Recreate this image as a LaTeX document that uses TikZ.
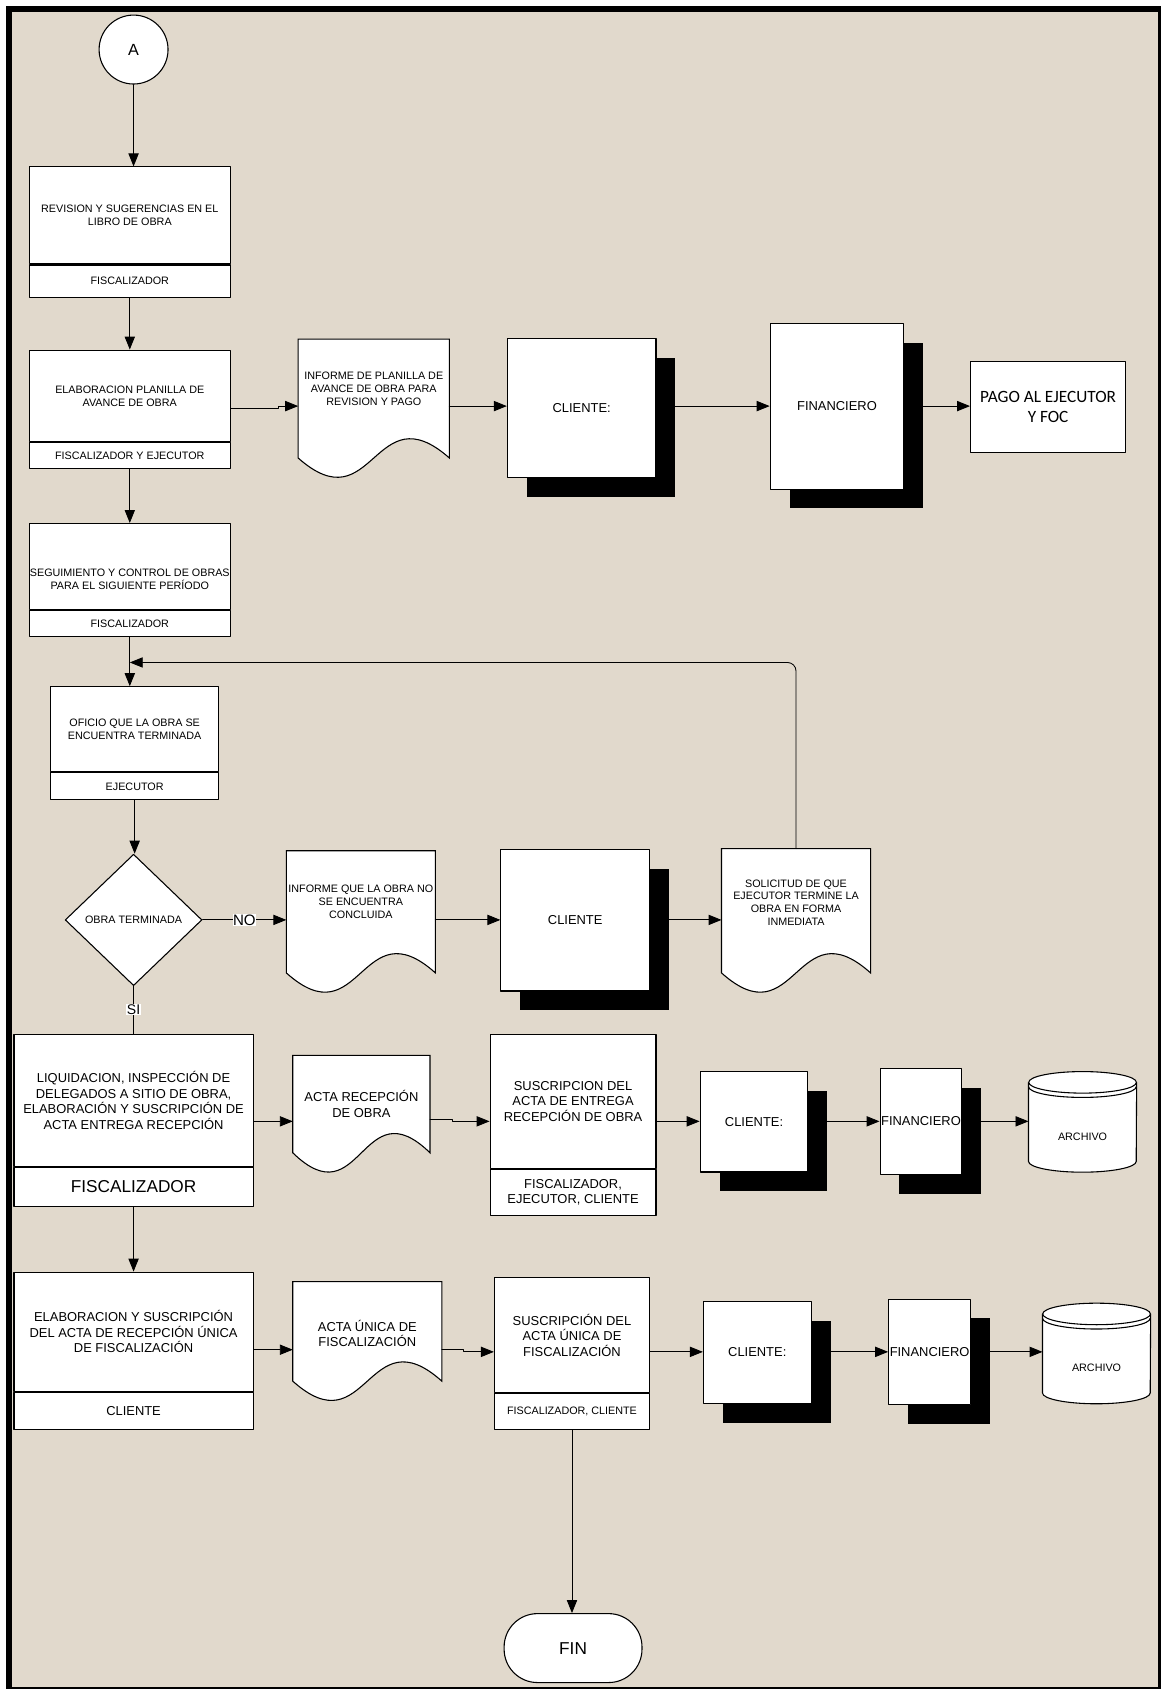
\documentclass[tikz,border=0pt]{standalone}
\usepackage{fontspec}
\setmainfont{Liberation Sans}
\newfontfamily\calibri{Carlito}
\usetikzlibrary{shapes.geometric,shadows,calc,arrows.meta,backgrounds}
\definecolor{fondo}{RGB}{225,217,204}

\newcommand{\fdiez}{\fontsize{10}{12}\selectfont}
\newcommand{\fdoce}{\fontsize{12}{14.4}\selectfont}
\newcommand{\fgrande}{\fontsize{16}{19}\selectfont}

% documento con borde inferior ondulado: #1 nodo, #2 largo extra de los lados
\newcommand{\documento}[2]{%
  \draw[fill=white,line width=1pt] (#1.north west) -- (#1.north east)
    -- ($(#1.south east)+(0,#2)$)
    .. controls ($(#1.south)+(0,{#2-62})$) and ($(#1.south)+(0,{#2+62})$) ..
    ($(#1.south west)+(0,#2)$) -- cycle;}
% archivo (cilindro con doble tapa)
\newcommand{\cilindro}[1]{%
  \draw[fill=white,line width=1pt] ($(#1.north west)+(0,10)$) -- ($(#1.south west)+(0,-10)$)
    arc[start angle=180,end angle=0,x radius=50,y radius=10] -- ($(#1.north east)+(0,10)$);
  \draw[fill=white,line width=1pt] ($(#1.north)+(0,10)$) ellipse[x radius=50,y radius=10];
  \draw[line width=1pt] ($(#1.north west)+(0,14)$) arc[start angle=180,end angle=0,x radius=50,y radius=10];}

\begin{document}
\begin{tikzpicture}[x=1pt,y=-1pt,line cap=round,line join=round,>={Triangle[length=12pt,width=9.5pt]},
  caja/.style={draw,fill=white,line width=1pt,inner sep=1pt,align=center,font=\fdiez},
  rol/.style={caja,anchor=north},
  doc/.style={inner sep=1pt,align=center,font=\fdiez},
  sombra/.style={caja,font=\fdoce,drop shadow={shadow xshift=18pt,shadow yshift=-18pt,fill=black,opacity=1}},
  archivo/.style={minimum width=100pt,minimum height=93pt,inner sep=0pt},
  etiq/.style={fill=white,inner sep=.5pt,font=\fontsize{14}{14}\selectfont},
  flecha/.style={->,line width=.8pt}]
\useasboundingbox (0,0) rectangle (1078,1568);
% marco y fondo
\begin{scope}[on background layer]
  \fill[white] (0,0) rectangle (1078,1568);
  \fill[black] (5.5,5.5) rectangle (1078,1568);
  \fill[fondo] (11.5,11.5) rectangle (1075,1566);
\end{scope}
\coordinate (f1) at (0,377);
\coordinate (f2) at (0,854);
\coordinate (f3) at (0,1041);
\coordinate (f4) at (0,1255);
\coordinate (m1) at (120.5,615);

% columna principal
\node[circle,draw,fill=white,line width=1pt,minimum size=64pt,inner sep=0pt,font=\fontsize{15}{18}\selectfont] (A) at (124,46) {A};
\node[caja,minimum width=187pt,minimum height=90pt] (rev) at (120.5,200) {REVISION Y SUGERENCIAS EN EL\\LIBRO DE OBRA};
\node[rol,minimum width=187pt,minimum height=30pt] (revr) at (rev.south) {FISCALIZADOR};
\node[caja,minimum width=187pt,minimum height=85pt] (plan) at (120.5,367.5) {ELABORACION PLANILLA DE\\AVANCE DE OBRA};
\node[rol,minimum width=187pt,minimum height=24pt] (planr) at (plan.south) {FISCALIZADOR Y EJECUTOR};
\node[caja,minimum width=187pt,minimum height=80pt,label={[font=\fdiez,align=center,yshift=-12pt,inner sep=0pt]center:SEGUIMIENTO Y CONTROL DE OBRAS\\PARA EL SIGUIENTE PERÍODO}] (seg) at (120.5,526) {};
\node[rol,minimum width=187pt,minimum height=24pt] (segr) at (seg.south) {FISCALIZADOR};
\node[caja,minimum width=156pt,minimum height=79pt] (ofi) at (125,677) {OFICIO QUE LA OBRA SE\\ENCUENTRA TERMINADA};
\node[rol,minimum width=156pt,minimum height=25pt] (ofir) at (ofi.south) {EJECUTOR};
\node[diamond,draw,fill=white,line width=1pt,minimum width=127pt,minimum height=122pt,inner sep=0pt,font=\fdiez] (dec) at (124,854) {OBRA TERMINADA};
\node[caja,font=\fdoce,minimum width=222pt,minimum height=123pt] (liq) at (124,1021.5) {LIQUIDACION, INSPECCIÓN DE\\DELEGADOS A SITIO DE OBRA,\\ELABORACIÓN Y SUSCRIPCIÓN DE\\ACTA ENTREGA RECEPCIÓN};
\node[rol,font=\fgrande,minimum width=222pt,minimum height=36pt] (liqr) at (liq.south) {FISCALIZADOR};
\node[caja,font=\fdoce,minimum width=222pt,minimum height=111pt] (elab) at (124,1236.5) {ELABORACION Y SUSCRIPCIÓN\\DEL ACTA DE RECEPCIÓN ÚNICA\\DE FISCALIZACIÓN};
\node[rol,font=\fdoce,minimum width=222pt,minimum height=34pt] (elabr) at (elab.south) {CLIENTE};

% fila 1
\node[doc,minimum width=140pt,minimum height=92pt] (inf1) at (347,361) {INFORME DE PLANILLA DE\\AVANCE DE OBRA PARA\\REVISION Y PAGO};
\node[sombra,minimum width=138pt,minimum height=129pt] (cli1) at (540,378.5) {CLIENTE:};
\node[sombra,minimum width=124pt,minimum height=154pt] (fin1) at (777,377) {FINANCIERO};
\node[caja,font=\fontsize{16}{19}\calibri,minimum width=144pt,minimum height=84pt] (pago) at (973,378) {PAGO AL EJECUTOR\\Y FOC};

% fila 2
\node[doc,minimum width=138pt,minimum height=94pt] (inf2) at (335,837) {INFORME QUE LA OBRA NO\\SE ENCUENTRA\\CONCLUIDA};
\node[sombra,minimum width=138pt,minimum height=131pt] (cli2) at (534,854.5) {CLIENTE};
\node[doc,minimum width=138pt,minimum height=100pt] (sol) at (739,838) {SOLICITUD DE QUE\\EJECUTOR TERMINE LA\\OBRA EN FORMA\\INMEDIATA};

% fila 3
\node[doc,font=\fdoce,minimum width=127pt,minimum height=90pt] (acta1) at (335.5,1025) {ACTA RECEPCIÓN\\DE OBRA};
\node[caja,font=\fdoce,minimum width=154pt,minimum height=125pt] (sus1) at (532,1022.5) {SUSCRIPCION DEL\\ACTA DE ENTREGA\\RECEPCIÓN DE OBRA};
\node[rol,font=\fdoce,minimum width=154pt,minimum height=42pt] (sus1r) at (sus1.south) {FISCALIZADOR,\\EJECUTOR, CLIENTE};
\node[sombra,minimum width=100pt,minimum height=93pt] (cli3) at (700,1041.5) {CLIENTE:};
\node[sombra,minimum width=76pt,minimum height=98pt] (fin3) at (855,1041) {FINANCIERO};
\node[archivo,label={[font=\fdiez,yshift=-13.5pt]center:ARCHIVO}] (arch1) at (1005,1041.5) {};

% fila 4
\node[doc,font=\fdoce,minimum width=138pt,minimum height=96pt] (acta2) at (341,1238) {ACTA ÚNICA DE\\FISCALIZACIÓN};
\node[caja,font=\fdoce,minimum width=144pt,minimum height=107pt] (sus2) at (531,1239.5) {SUSCRIPCIÓN DEL\\ACTA ÚNICA DE\\FISCALIZACIÓN};
\node[rol,minimum width=144pt,minimum height=33pt] (sus2r) at (sus2.south) {FISCALIZADOR, CLIENTE};
\node[sombra,minimum width=100pt,minimum height=95pt] (cli4) at (703,1255.5) {CLIENTE:};
\node[sombra,minimum width=76pt,minimum height=98pt] (fin4) at (863,1255) {FINANCIERO};
\node[archivo,label={[font=\fdiez,yshift=-13.5pt]center:ARCHIVO}] (arch2) at (1018,1256.5) {};

\node[draw,fill=white,line width=1pt,rounded corners=31pt,minimum width=128pt,minimum height=64pt,font=\fgrande] (fin) at (532,1530) {FIN};

% contornos de documentos y archivos
\begin{scope}[on background layer]
  \documento{inf1}{18}
  \documento{inf2}{19}
  \documento{sol}{15}
  \documento{acta1}{0}
  \documento{acta2}{-4}
  \cilindro{arch1}
  \cilindro{arch2}
\end{scope}

% conectores
\draw[flecha] (A.south) -- (A.south |- rev.north);
\draw[flecha] (revr.south) -- (plan.north);
\draw[flecha] (planr.south) -- (seg.north);
\draw[flecha] (segr.south) -- (segr.south |- ofi.north);
\draw[flecha] (ofir.south) -- (ofir.south |- dec.north);
\draw[line width=.8pt] (dec.south) -- node[etiq,font=\fontsize{13}{13}\selectfont]{SI} (liq.north);
\draw[flecha] (liqr.south) -- (elab.north);
\draw[flecha] (sus2r.south) -- (sus2r.south |- fin.north);

\draw[flecha] ($(plan.east |- f1)+(0,2)$) -- ++(44,0) |- (inf1.west |- f1);
\draw[flecha] (inf1.east |- f1) -- (cli1.west |- f1);
\draw[flecha] (cli1.east |- f1) -- (fin1.west |- f1);
\draw[flecha] (fin1.east |- f1) -- (pago.west |- f1);

\draw[flecha] (dec.east) -- node[etiq]{NO} (inf2.west |- f2);
\draw[flecha] (inf2.east |- f2) -- (cli2.west |- f2);
\draw[flecha] (cli2.east |- f2) -- (sol.west |- f2);
\draw[flecha,rounded corners=8pt] (sol.north) |- (m1);

\draw[flecha] (liq.east |- f3) -- (acta1.west |- f3);
\draw[flecha] ($(acta1.east |- f3)+(0,-1.5)$) -- ++(21,0) |- (sus1.west |- f3);
\draw[flecha] (sus1.east |- f3) -- (cli3.west |- f3);
\draw[flecha] (cli3.east |- f3) -- (fin3.west |- f3);
\draw[flecha] (fin3.east |- f3) -- (arch1.west |- f3);

\draw[flecha] ($(elab.east |- f4)+(0,-2)$) -- ($(acta2.west |- f4)+(0,-2)$);
\draw[flecha] ($(acta2.east |- f4)+(0,-2)$) -- ++(20,0) |- (sus2.west |- f4);
\draw[flecha] (sus2.east |- f4) -- (cli4.west |- f4);
\draw[flecha] (cli4.east |- f4) -- (fin4.west |- f4);
\draw[flecha] (fin4.east |- f4) -- (arch2.west |- f4);
\end{tikzpicture}
\end{document}
